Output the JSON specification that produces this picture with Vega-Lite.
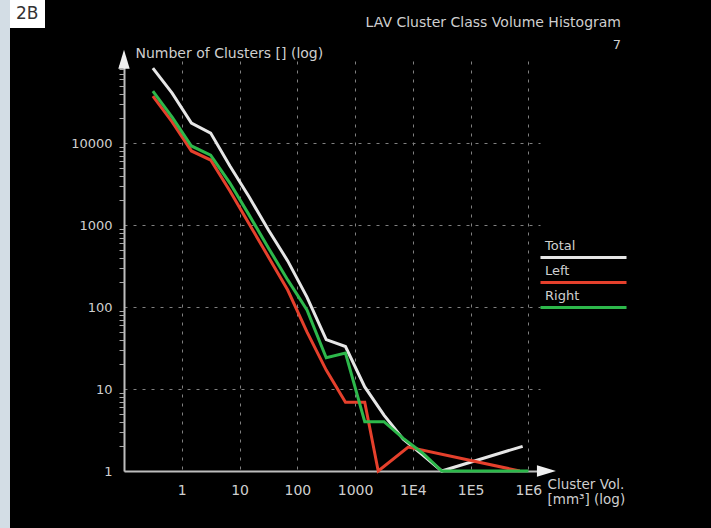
{
  "$schema": "https://vega.github.io/schema/vega-lite/v6.json",
  "autosize": {"type": "none"},
  "width": 416,
  "height": 410,
  "padding": {"left": 124, "top": 61, "right": 171, "bottom": 57},
  "background": "#000000",
  "config": {
    "font": "DejaVu Sans",
    "view": {"stroke": null},
    "axis": {"labelColor": "#cfcfcf", "titleColor": "#cfcfcf", "titleFontWeight": "normal", "labelFont": "DejaVu Sans", "titleFont": "DejaVu Sans"},
    "legend": {"labelFont": "DejaVu Sans", "titleFont": "DejaVu Sans"}
  },
  "title": {
    "text": "LAV Cluster Class Volume Histogram",
    "subtitle": "7",
    "anchor": "end",
    "frame": "group",
    "dx": 81,
    "fontSize": 14,
    "fontWeight": "normal",
    "color": "#cfcfcf",
    "subtitleColor": "#cfcfcf",
    "subtitleFontSize": 13,
    "subtitlePadding": 9,
    "offset": -52
  },
  "datasets": {
    "clusters": [
      {"series": "Total", "volume": 0.316, "count": 82000},
      {"series": "Total", "volume": 0.681, "count": 40500},
      {"series": "Total", "volume": 1.468, "count": 17500},
      {"series": "Total", "volume": 3.162, "count": 13200},
      {"series": "Total", "volume": 6.813, "count": 5250},
      {"series": "Total", "volume": 14.68, "count": 2190},
      {"series": "Total", "volume": 31.62, "count": 870},
      {"series": "Total", "volume": 68.13, "count": 365},
      {"series": "Total", "volume": 146.8, "count": 132},
      {"series": "Total", "volume": 316.2, "count": 40},
      {"series": "Total", "volume": 681.3, "count": 33},
      {"series": "Total", "volume": 1468, "count": 10.6},
      {"series": "Total", "volume": 3162, "count": 4.8},
      {"series": "Total", "volume": 6813, "count": 2.45},
      {"series": "Total", "volume": 14678, "count": 1.57},
      {"series": "Total", "volume": 31623, "count": 1},
      {"series": "Total", "volume": 794000, "count": 2},
      {"series": "Left", "volume": 0.316, "count": 37400},
      {"series": "Left", "volume": 0.681, "count": 18100},
      {"series": "Left", "volume": 1.468, "count": 8000},
      {"series": "Left", "volume": 3.162, "count": 6200},
      {"series": "Left", "volume": 6.813, "count": 2600},
      {"series": "Left", "volume": 14.68, "count": 1030},
      {"series": "Left", "volume": 31.62, "count": 408},
      {"series": "Left", "volume": 68.13, "count": 161},
      {"series": "Left", "volume": 146.8, "count": 49.6},
      {"series": "Left", "volume": 316.2, "count": 17},
      {"series": "Left", "volume": 681.3, "count": 6.9},
      {"series": "Left", "volume": 1468, "count": 6.9},
      {"series": "Left", "volume": 2512, "count": 1},
      {"series": "Left", "volume": 8300, "count": 1.96},
      {"series": "Left", "volume": 708000, "count": 1},
      {"series": "Right", "volume": 0.316, "count": 43000},
      {"series": "Right", "volume": 0.681, "count": 20700},
      {"series": "Right", "volume": 1.468, "count": 9200},
      {"series": "Right", "volume": 3.162, "count": 7100},
      {"series": "Right", "volume": 6.813, "count": 3250},
      {"series": "Right", "volume": 14.68, "count": 1320},
      {"series": "Right", "volume": 31.62, "count": 525},
      {"series": "Right", "volume": 68.13, "count": 214},
      {"series": "Right", "volume": 146.8, "count": 92},
      {"series": "Right", "volume": 316.2, "count": 24},
      {"series": "Right", "volume": 681.3, "count": 27.5},
      {"series": "Right", "volume": 1468, "count": 4},
      {"series": "Right", "volume": 3162, "count": 4},
      {"series": "Right", "volume": 6813, "count": 2.5},
      {"series": "Right", "volume": 14678, "count": 1.66},
      {"series": "Right", "volume": 31623, "count": 1},
      {"series": "Right", "volume": 1000000, "count": 1}
    ]
  },
  "resolve": {"axis": {"y": "independent"}},
  "layer": [
    {
      "data": {"name": "clusters"},
      "mark": {"type": "line", "strokeWidth": 3, "strokeJoin": "miter"},
      "encoding": {
        "x": {
          "field": "volume",
          "type": "quantitative",
          "scale": {"type": "log", "domain": [0.1, 1584893], "nice": false},
          "axis": {
            "values": [0.1, 1, 10, 100, 1000, 10000, 100000, 1000000],
            "labelExpr": "datum.value < 1 ? '' : datum.value >= 10000 ? '1E' + round(log(datum.value) / LN10) : format(datum.value, 'd')",
            "grid": true,
            "gridColor": "#808080",
            "gridDash": [3, 6],
            "gridWidth": 1,
            "domainColor": "#bdbdbd",
            "domainWidth": 2,
            "ticks": false,
            "labelFontSize": 14,
            "labelPadding": 12,
            "title": ["Cluster Vol.", "[mm³] (log)"],
            "titleX": 423,
            "titleY": 6,
            "titleAlign": "left",
            "titleBaseline": "top",
            "titleFontSize": 13.5,
            "titleLineHeight": 15
          }
        },
        "y": {
          "field": "count",
          "type": "quantitative",
          "scale": {"type": "log", "domain": [1, 100000], "nice": false},
          "axis": {
            "values": [1, 10, 100, 1000, 10000],
            "format": "d",
            "grid": true,
            "gridColor": "#808080",
            "gridDash": [3, 6],
            "gridWidth": 1,
            "domainColor": "#bdbdbd",
            "domainWidth": 2,
            "ticks": false,
            "labelFontSize": 13,
            "labelPadding": 12,
            "title": "Number of Clusters [] (log)",
            "titleAngle": 0,
            "titleX": 11,
            "titleY": -8,
            "titleAlign": "left",
            "titleBaseline": "middle",
            "titleFontSize": 14
          }
        },
        "color": {
          "field": "series",
          "type": "nominal",
          "scale": {"domain": ["Total", "Left", "Right"], "range": ["#e6e6e6", "#e5402c", "#2db84b"]},
          "legend": {
            "orient": "none",
            "legendX": 453,
            "legendY": 178,
            "title": null,
            "symbolType": "M-10,2.8H10",
            "symbolSize": 74,
            "symbolStrokeWidth": 3,
            "labelColor": "#d0d0d0",
            "labelFontSize": 13,
            "labelOffset": -45,
            "labelBaseline": "middle",
            "rowPadding": -1
          }
        }
      }
    },
    {
      "data": {"values": [{"part": "x-arrow"}]},
      "mark": {"type": "point", "shape": "M-1,-0.6L1,0L-1,0.6Z", "filled": true, "fill": "#f0f0f0", "strokeWidth": 0, "opacity": 1, "size": 361, "clip": false},
      "encoding": {
        "x": {"datum": 2050000, "type": "quantitative"},
        "y": {"datum": 1, "type": "quantitative", "axis": {
          "orient": "left",
          "values": [2,3,4,5,6,7,8,9,20,30,40,50,60,70,80,90,200,300,400,500,600,700,800,900,2000,3000,4000,5000,6000,7000,8000,9000,20000,30000,40000,50000,60000,70000,80000,90000],
          "labels": false, "grid": false, "domain": false, "ticks": true, "tickSize": 5, "tickWidth": 1, "tickColor": "#aaaaaa", "title": null
        }},
        "stroke": {
          "datum": 1,
          "type": "quantitative",
          "scale": {"domain": [0, 1], "range": ["#d3dde5", "#d3dde5"]},
          "legend": {"orient": "none", "legendX": -124, "legendY": -61, "direction": "vertical", "gradientLength": 528, "gradientThickness": 10, "gradientStrokeWidth": 0, "labels": false, "title": null, "padding": 0}
        }
      }
    },
    {
      "data": {"values": [{"part": "y-arrow"}]},
      "mark": {"type": "point", "filled": true, "color": "#f0f0f0", "opacity": 1, "size": 361, "clip": false},
      "encoding": {
        "x": {"datum": 0.1, "type": "quantitative"},
        "y": {"datum": 105000, "type": "quantitative", "axis": null},
        "shape": {
          "datum": "2B",
          "type": "nominal",
          "scale": {"range": ["M-0.6,1L0,-1L0.6,1Z"]},
          "legend": {"orient": "none", "legendX": -114, "legendY": -61, "values": [], "title": "2B", "titleColor": "#333333", "titleFontSize": 17, "titleFontWeight": "normal", "fillColor": "#ffffff", "padding": 6}
        }
      }
    }
  ]
}
